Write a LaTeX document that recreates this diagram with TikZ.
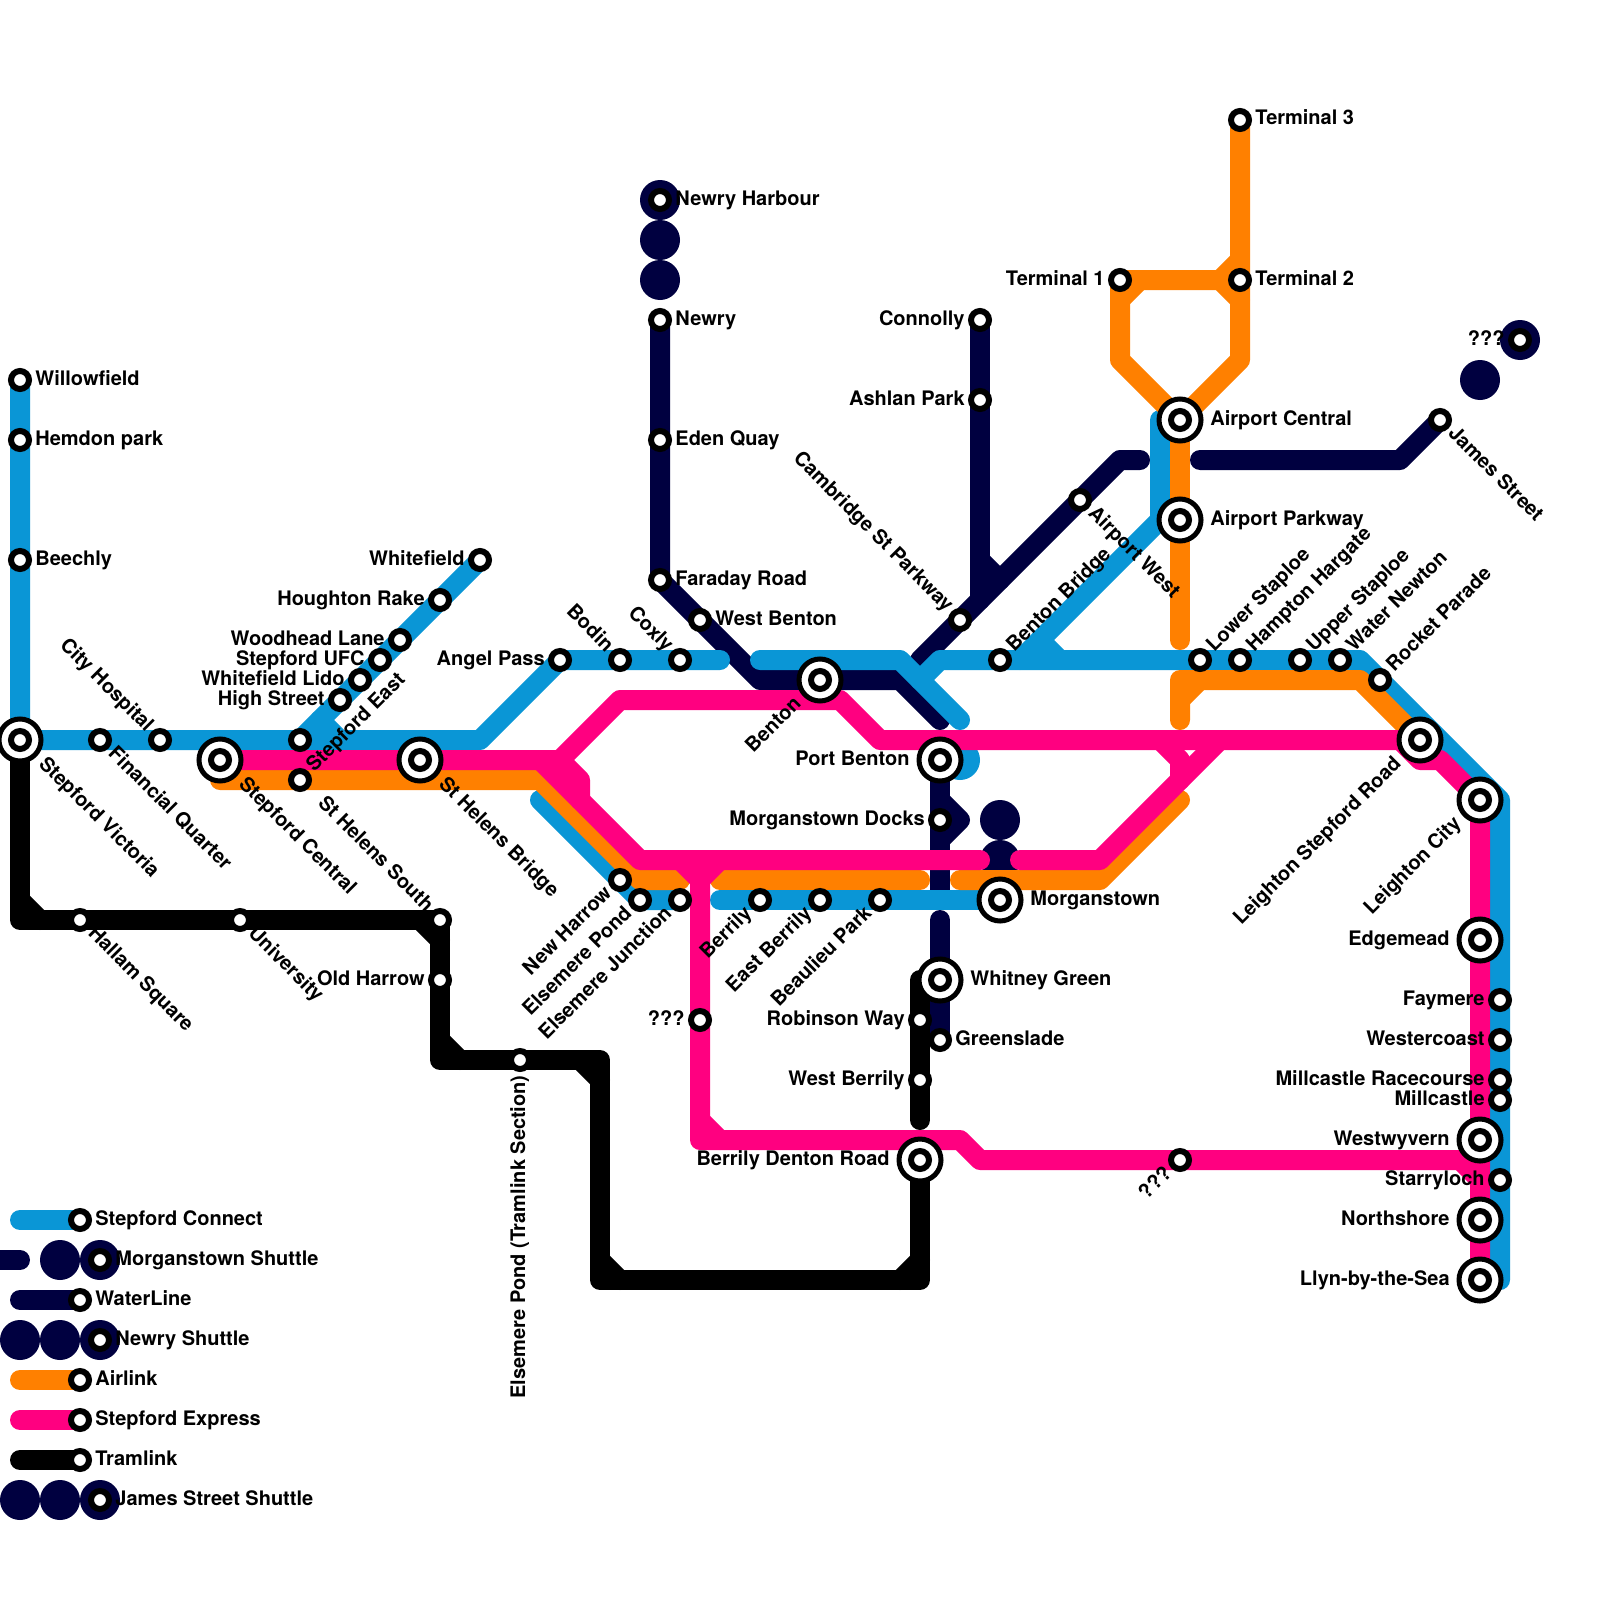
\documentclass[tikz,border=0pt]{standalone}
\usepackage{fontspec}
\setmainfont{TeX Gyre Heros}
\definecolor{cblue}{HTML}{0A96D6}
\definecolor{cnavy}{HTML}{000040}
\definecolor{corange}{HTML}{FF8000}
\definecolor{cpink}{HTML}{FF0080}
\tikzset{
  x=0.5pt,y=-0.5pt,
  route/.style={line width=10pt,line cap=round,line join=round},
  sblue/.style={route,draw=cblue},
  snavy/.style={route,draw=cnavy},
  sorange/.style={route,draw=corange},
  spink/.style={route,draw=cpink},
  sblack/.style={route,draw=black},
  blob/.style={circle,fill=cnavy,inner sep=0pt,minimum size=20pt},
  smallst/.style={circle,draw=black,fill=white,line width=3pt,inner sep=0pt,minimum size=9pt},
  bigst/.style={circle,draw=black,fill=white,line width=2.5pt,inner sep=0pt,minimum size=21pt},
  lbl/.style={font=\fontsize{10pt}{12pt}\selectfont\bfseries,inner sep=0pt,text=black},
}
\newcommand{\St}[3]{\coordinate (#1) at (#2,#3);}
\newcommand{\Sm}[1]{\node[smallst] (#1-s) at (#1) {};}
\newcommand{\Bg}[1]{\node[bigst] (#1-s) at (#1) {};\node[smallst] (#1-i) at (#1) {};}
\newcommand{\lR}[4][7.5pt]{\path (#2) ++(#3:#1) ++(#3-90:2.5pt) node[lbl,rotate=#3,anchor=base west] (#2-l) {#4};}
\newcommand{\lL}[4][7.5pt]{\path (#2) ++(#3:-#1) ++(#3-90:2.5pt) node[lbl,rotate=#3,anchor=base east] (#2-l) {#4};}
\begin{document}
\begin{tikzpicture}
\useasboundingbox (0,0) rectangle (1600,1600);
\fill[white] (0,0) rectangle (1600,1600);
% coordinates of stations
\St{willowfield}{20}{380}\St{hemdon}{20}{440}\St{beechly}{20}{560}\St{victoria}{20}{740}
\St{financial}{100}{740}\St{cityhosp}{160}{740}\St{central}{220}{760}\St{helensx}{300}{740}
\St{stepeast}{300}{780}\St{bridge}{420}{760}\St{highst}{340}{700}\St{lido}{360}{680}
\St{ufc}{380}{660}\St{woodhead}{400}{640}\St{houghton}{440}{600}\St{whitefield}{480}{560}
\St{angel}{560}{660}\St{bodin}{620}{660}\St{coxly}{680}{660}
\St{harbour}{660}{200}\St{newry}{660}{320}\St{eden}{660}{440}\St{faraday}{660}{580}
\St{westbenton}{700}{620}\St{benton}{820}{680}
\St{connolly}{980}{320}\St{ashlan}{980}{400}\St{cambridge}{960}{620}\St{airportw}{1080}{500}
\St{bentonbr}{1000}{660}\St{acentral}{1180}{420}\St{aparkway}{1180}{520}\St{james}{1440}{420}
\St{unkjames}{1520}{340}\St{term3}{1240}{120}\St{term2}{1240}{280}\St{term1}{1120}{280}
\St{lowerst}{1200}{660}\St{hampton}{1240}{660}\St{upperst}{1300}{660}\St{waternewton}{1340}{660}
\St{rocket}{1380}{680}\St{leightonsr}{1420}{740}\St{leightonc}{1480}{800}\St{edgemead}{1480}{940}
\St{faymere}{1500}{1000}\St{westercoast}{1500}{1040}\St{racecourse}{1500}{1080}\St{millcastle}{1500}{1100}
\St{westwyvern}{1480}{1140}\St{starryloch}{1500}{1180}\St{northshore}{1480}{1220}\St{llyn}{1480}{1280}
\St{portbenton}{940}{760}\St{docks}{940}{820}\St{morganstown}{1000}{900}\St{whitney}{940}{980}
\St{greenslade}{940}{1040}\St{robinson}{920}{1020}\St{westberrily}{920}{1080}\St{denton}{920}{1160}
\St{unkexp}{1180}{1160}\St{unkvert}{700}{1020}
\St{newharrow}{620}{880}\St{epond}{640}{900}\St{ejunction}{680}{900}\St{berrily}{760}{900}
\St{eastberrily}{820}{900}\St{beaulieu}{880}{900}
\St{hallam}{80}{920}\St{university}{240}{920}\St{helens}{440}{920}\St{oldharrow}{440}{980}\St{epondtram}{520}{1060}
\St{lgblue}{80}{1220}\St{lgmorgan}{100}{1260}\St{lgwater}{80}{1300}\St{lgnewry}{100}{1340}
\St{lgair}{80}{1380}\St{lgexpress}{80}{1420}\St{lgtram}{80}{1460}\St{lgjames}{100}{1500}
% shuttle blobs
\foreach \nm/\a/\b in {b1/660/200,b2/660/240,b3/660/280,b4/1000/820,b5/1000/860,b6/1000/900,b7/1520/340,b8/1480/380,
  b9/60/1260,b10/100/1260,b11/20/1340,b12/60/1340,b13/100/1340,b14/20/1500,b15/60/1500,b16/100/1500}
  {\node[blob] (\nm) at (\a,\b) {};}
% WaterLine
\draw[snavy] (newry) -- (faraday) -- (760,680) -- (900,680) -- (940,720);
\draw[snavy] (connolly) -- (980,600);
\draw[snavy] (980,560) -- (1000,580);
\draw[snavy] (1140,460) -- (1120,460) -- (920,660);
\draw[snavy] (1200,460) -- (1400,460) -- (james);
\draw[snavy] (portbenton) -- (940,900);
\draw[snavy] (940,800) -- (960,820) -- (940,840);
\draw[snavy] (940,920) -- (greenslade);
\draw[snavy] (0,1260) -- (20,1260);
\draw[snavy] (20,1300) -- (lgwater);
% Stepford Connect
\fill[cblue] (960,760) circle[radius=20];
\draw[sblue] (willowfield) -- (victoria) -- (480,740) -- (angel) -- (720,660);
\draw[sblue] (whitefield) -- (320,720) -- (340,740);
\draw[sblue] (320,720) -- (helensx);
\draw[sblue] (760,660) -- (900,660) -- (960,720);
\draw[sblue] (1160,420) -- (1160,520) -- (1020,660);
\draw[sblue] (1040,640) -- (1060,660);
\draw[sblue] (920,680) -- (940,660) -- (1360,660) -- (1500,800) -- (1500,1280);
\draw[sblue] (540,800) -- (epond) -- (ejunction);
\draw[sblue] (720,900) -- (morganstown);
\draw[sblue] (20,1220) -- (lgblue);
% Airlink
\draw[sorange] (central) ++(0,20) -- (540,780) -- (640,880) -- (680,880);
\draw[sorange] (720,880) -- (920,880);
\draw[sorange] (960,880) -- (1100,880) -- (1180,800);
\draw[sorange] (term3) -- (1240,360) -- (acentral) -- (1120,360) -- (term1) -- (1220,280) -- (1240,260);
\draw[sorange] (1220,280) -- (1240,300);
\draw[sorange] (1120,300) -- (1140,280);
\draw[sorange] (acentral) -- (1180,640);
\draw[sorange] (1180,720) -- (1180,680) -- (1360,680) -- (leightonsr);
\draw[sorange] (1180,700) -- (1200,680);
\draw[sorange] (20,1380) -- (lgair);
% Stepford Express
\draw[spink] (central) -- (560,760) -- (620,700) -- (840,700) -- (880,740) -- (1400,740) -- (1420,760) -- (1440,760) -- (leightonc) -- (llyn);
\draw[spink] (540,760) -- (640,860) -- (980,860);
\draw[spink] (560,760) -- (580,780) -- (580,800);
\draw[spink] (1020,860) -- (1100,860) -- (1220,740);
\draw[spink] (1160,740) -- (1180,760) -- (1180,780);
\draw[spink] (680,860) -- (700,880) -- (720,860);
\draw[spink] (700,880) -- (700,1140) -- (960,1140) -- (980,1160) -- (1460,1160) -- (1480,1180);
\draw[spink] (700,1120) -- (720,1140);
\draw[spink] (20,1420) -- (lgexpress);
% Tramlink
\draw[sblack] (victoria) -- (20,920) -- (helens) -- (440,1060) -- (600,1060) -- (600,1280) -- (920,1280) -- (denton);
\draw[sblack] (20,900) -- (40,920);
\draw[sblack] (420,920) -- (440,940);
\draw[sblack] (440,1040) -- (460,1060);
\draw[sblack] (580,1060) -- (600,1080);
\draw[sblack] (600,1260) -- (620,1280);
\draw[sblack] (900,1280) -- (920,1260);
\draw[sblack] (920,980) -- (920,1120);
\draw[sblack] (20,1460) -- (lgtram);
% stations
\foreach \s in {willowfield,hemdon,beechly,financial,cityhosp,helensx,stepeast,highst,lido,ufc,woodhead,houghton,whitefield,
  angel,bodin,coxly,harbour,newry,eden,faraday,westbenton,connolly,ashlan,cambridge,airportw,bentonbr,james,unkjames,term3,term2,term1,
  lowerst,hampton,upperst,waternewton,rocket,faymere,westercoast,racecourse,millcastle,starryloch,docks,greenslade,robinson,westberrily,
  unkexp,unkvert,newharrow,epond,ejunction,berrily,eastberrily,beaulieu,hallam,university,helens,oldharrow,epondtram,
  lgblue,lgmorgan,lgwater,lgnewry,lgair,lgexpress,lgtram,lgjames}
  {\Sm{\s}}
\foreach \s in {victoria,central,bridge,benton,acentral,aparkway,leightonsr,leightonc,edgemead,westwyvern,northshore,llyn,portbenton,morganstown,whitney,denton}
  {\Bg{\s}}
% labels
\lR{willowfield}{0}{Willowfield}
\lR{hemdon}{0}{Hemdon park}
\lR{beechly}{0}{Beechly}
\lR[15pt]{victoria}{-45}{Stepford Victoria}
\lR{financial}{-45}{Financial Quarter}
\lL{cityhosp}{-45}{City Hospital}
\lR[15pt]{central}{-45}{Stepford Central}
\lR{stepeast}{45}{Stepford East}
\lR[15pt]{bridge}{-45}{St Helens Bridge}
\lL{highst}{0}{High Street}
\lL{lido}{0}{Whitefield Lido}
\lL{ufc}{0}{Stepford UFC}
\lL{woodhead}{0}{Woodhead Lane}
\lL{houghton}{0}{Houghton Rake}
\lL{whitefield}{0}{Whitefield}
\lL{angel}{0}{Angel Pass}
\lL{bodin}{-45}{Bodin}
\lL{coxly}{-45}{Coxly}
\lR{harbour}{0}{Newry Harbour}
\lR{newry}{0}{Newry}
\lR{eden}{0}{Eden Quay}
\lR{faraday}{0}{Faraday Road}
\lR{westbenton}{0}{West Benton}
\lL[15pt]{benton}{45}{Benton}
\lL{connolly}{0}{Connolly}
\lL{ashlan}{0}{Ashlan Park}
\lL{cambridge}{-45}{Cambridge St Parkway}
\lR{airportw}{-45}{Airport West}
\lR{bentonbr}{45}{Benton Bridge}
\lR[15pt]{acentral}{0}{Airport Central}
\lR[15pt]{aparkway}{0}{Airport Parkway}
\lR{james}{-45}{James Street}
\lL{unkjames}{0}{???}
\lR{term3}{0}{Terminal 3}
\lR{term2}{0}{Terminal 2}
\lL{term1}{0}{Terminal 1}
\lR{lowerst}{45}{Lower Staploe}
\lR{hampton}{45}{Hampton Hargate}
\lR{upperst}{45}{Upper Staploe}
\lR{waternewton}{45}{Water Newton}
\lR{rocket}{45}{Rocket Parade}
\lL[15pt]{leightonsr}{45}{Leighton Stepford Road}
\lL[15pt]{leightonc}{45}{Leighton City}
\lL[15pt]{edgemead}{0}{Edgemead}
\lL{faymere}{0}{Faymere}
\lL{westercoast}{0}{Westercoast}
\lL{racecourse}{0}{Millcastle Racecourse}
\lL{millcastle}{0}{Millcastle}
\lL[15pt]{westwyvern}{0}{Westwyvern}
\lL{starryloch}{0}{Starryloch}
\lL[15pt]{northshore}{0}{Northshore}
\lL[15pt]{llyn}{0}{Llyn-by-the-Sea}
\lL[15pt]{portbenton}{0}{Port Benton}
\lL{docks}{0}{Morganstown Docks}
\lR[15pt]{morganstown}{0}{Morganstown}
\lR[15pt]{whitney}{0}{Whitney Green}
\lR{greenslade}{0}{Greenslade}
\lL{robinson}{0}{Robinson Way}
\lL{westberrily}{0}{West Berrily}
\lL[15pt]{denton}{0}{Berrily Denton Road}
\lL{unkexp}{45}{???}
\lL{unkvert}{0}{???}
\lL{newharrow}{45}{New Harrow}
\lL{epond}{45}{Elsemere Pond}
\lL{ejunction}{45}{Elsemere Junction}
\lL{berrily}{45}{Berrily}
\lL{eastberrily}{45}{East Berrily}
\lL{beaulieu}{45}{Beaulieu Park}
\lR{hallam}{-45}{Hallam Square}
\lR{university}{-45}{University}
\lL{helens}{-45}{St Helens South}
\lL{oldharrow}{0}{Old Harrow}
\lL{epondtram}{90}{Elsemere Pond (Tramlink Section)}
\lR{lgblue}{0}{Stepford Connect}
\lR{lgmorgan}{0}{Morganstown Shuttle}
\lR{lgwater}{0}{WaterLine}
\lR{lgnewry}{0}{Newry Shuttle}
\lR{lgair}{0}{Airlink}
\lR{lgexpress}{0}{Stepford Express}
\lR{lgtram}{0}{Tramlink}
\lR{lgjames}{0}{James Street Shuttle}
\end{tikzpicture}
\end{document}
